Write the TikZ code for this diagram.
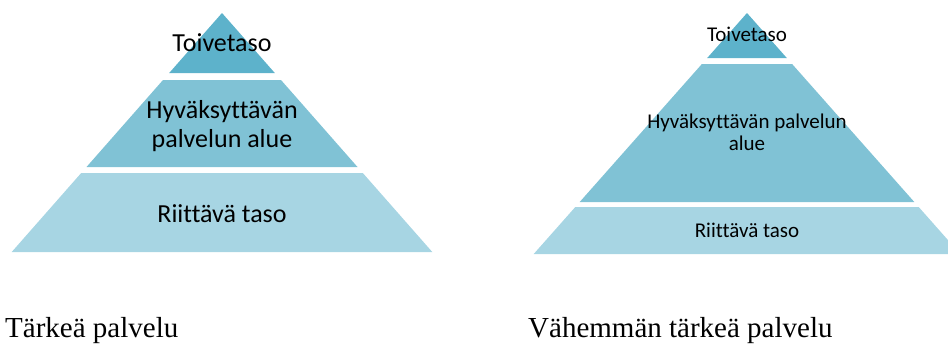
\documentclass[tikz,border=0pt]{standalone}
\usepackage{fontspec}
\setmainfont{Liberation Serif}
\newfontfamily\tierfont[Ligatures=NoCommon]{Carlito}
\definecolor{tierTop}{HTML}{5DB2CB}
\definecolor{tierMid}{HTML}{80C2D5}
\definecolor{tierLow}{HTML}{A7D5E3}
\begin{document}
\begin{tikzpicture}[x=1pt, y=-1pt,
    bigtxt/.style ={font=\tierfont\fontsize{26}{29}\selectfont, align=center, inner sep=0pt, anchor=base},
    smalltxt/.style={font=\tierfont\fontsize{21}{22}\selectfont, align=center, inner sep=0pt, anchor=base},
    caption/.style ={font=\fontsize{29}{30}\selectfont, inner sep=0pt, anchor=base west},
  ]
  \useasboundingbox (0,0) rectangle (948,343);
  \clip (0,0) rectangle (948,343);

  % left pyramid
  \fill[tierTop] (222,13) -- (274.8,73) -- (169.2,73) -- cycle;
  \fill[tierMid] (163,80) -- (281,80) -- (357.5,167) -- (86.5,167) -- cycle;
  \fill[tierLow] (81.2,173) -- (362.8,173) -- (432.3,252) -- (11.7,252) -- cycle;
  \node[bigtxt] (lTop) at (222,51) {Toivetaso};
  \node[bigtxt] (lMid) at (222,147) {Hyväksyttävän\\palvelun alue};
  \node[bigtxt] (lLow) at (222,222) {Riittävä taso};

  % right pyramid
  \fill[tierTop] (747,13) -- (786.8,58) -- (707.2,58) -- cycle;
  \fill[tierMid] (701.9,64) -- (792.1,64) -- (914.3,202) -- (579.7,202) -- cycle;
  \fill[tierLow] (575.3,207) -- (918.7,207) -- (960.3,254) -- (533.7,254) -- cycle;
  \node[smalltxt] (rTop) at (747,41) {Toivetaso};
  \node[smalltxt] (rMid) at (747,150) {Hyväksyttävän palvelun\\alue};
  \node[smalltxt] (rLow) at (747,237) {Riittävä taso};

  % captions
  \node[caption] (capL) at (5,337) {Tärkeä palvelu};
  \node[caption] (capR) at (528,337) {Vähemmän tärkeä palvelu};
\end{tikzpicture}
\end{document}
